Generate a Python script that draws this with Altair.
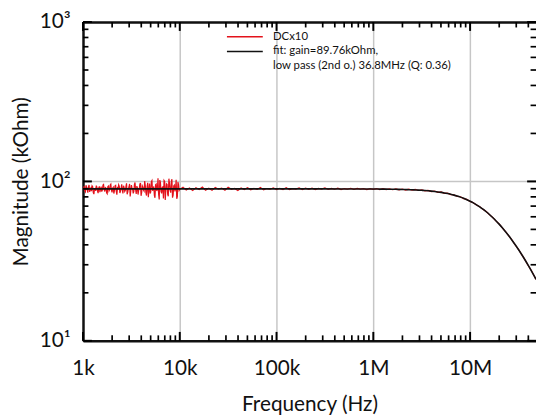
import altair as alt
import pandas as pd

FONT = "Lato"
RED = "#e3121b"
BLACK = "#111111"
GRID = "#c6c6c6"
W, H = 459, 323

# ---- measured trace "DCx10" (Hz, kOhm) ----
freq_lf = [1000, 1029, 1059, 1090, 1122, 1155, 1189, 1223, 1259, 1296,
           1334, 1372, 1413, 1454, 1496, 1540, 1585, 1631, 1679, 1728,
           1778, 1830, 1884, 1939, 1995, 2054, 2113, 2175, 2239, 2304,
           2371, 2441, 2512, 2585, 2661, 2738, 2818, 2901, 2985, 3073,
           3162, 3255, 3350, 3447, 3548, 3652, 3758, 3868, 3981, 4097,
           4217, 4340, 4467, 4597, 4732, 4870, 5012, 5158, 5309, 5464,
           5623, 5788, 5957, 6131, 6310, 6494, 6683, 6879, 7079, 7286,
           7499, 7718, 7943, 8175, 8414, 8660, 8913, 9173, 9441, 9716,
           10000]
mag_lf = [88.5, 93.2, 86.1, 91.7, 84.9, 95.0, 89.3, 86.8, 92.6, 83.2,
          90.4, 94.1, 87.0, 91.2, 85.6, 92.8, 88.2, 95.6, 86.4, 90.9,
          83.7, 93.5, 89.0, 96.2, 85.3, 91.8, 87.5, 94.4, 82.6, 90.1,
          93.0, 86.9, 95.8, 84.1, 91.4, 88.0, 97.3, 85.8, 92.2, 80.4,
          94.7, 89.6, 86.2, 98.5, 83.5, 91.0, 87.7, 96.0, 81.2, 93.9,
          88.4, 100.6, 84.7, 92.9, 79.5, 97.1, 86.0, 101.2, 90.3, 81.8,
          95.4, 87.1, 104.8, 77.0, 98.7, 84.2, 92.5, 101.4, 76.4, 96.6,
          82.9, 104.0, 88.1, 99.3, 79.1, 93.6, 86.5, 102.5, 80.3, 95.1,
          89.2]
freq_lf2 = [1014, 1044, 1074, 1106, 1138, 1172, 1206, 1241, 1277, 1315,
            1353, 1392, 1433, 1475, 1518, 1562, 1608, 1655, 1703, 1753,
            1804, 1857, 1911, 1967, 2024, 2083, 2144, 2207, 2271, 2337,
            2405, 2476, 2548, 2622, 2699, 2778, 2859, 2943, 3029, 3117,
            3208, 3302, 3398, 3497, 3600, 3705, 3813, 3924, 4039, 4157,
            4278, 4403, 4532, 4664, 4800, 4941, 5085, 5233, 5386, 5543,
            5705, 5872, 6043, 6220, 6401, 6588, 6780, 6978, 7182, 7392,
            7608, 7830, 8058, 8294, 8536, 8785, 9042, 9306, 9577, 9857]
mag_lf2 = [91.0, 87.4, 94.6, 88.9, 92.3, 86.0, 90.8, 93.7, 85.1, 89.9,
           87.2, 92.0, 84.4, 93.1, 89.6, 86.3, 94.9, 88.7, 91.5, 84.8,
           92.6, 87.3, 95.1, 88.0, 90.5, 83.9, 93.8, 86.7, 91.0, 95.2,
           84.6, 90.7, 88.3, 94.0, 86.5, 92.7, 83.0, 90.2, 96.4, 87.0,
           91.3, 84.2, 95.5, 88.6, 93.4, 82.7, 90.0, 97.8, 85.2, 92.1,
           86.9, 94.3, 81.6, 98.0, 88.8, 84.0, 99.6, 87.4, 93.0, 78.9,
           96.3, 89.5, 83.1, 102.0, 86.6, 91.9, 78.2, 100.1, 88.3, 95.9,
           80.6, 97.4, 85.0, 103.3, 82.1, 94.8, 90.6, 77.8, 99.0, 87.8]

freq_mf = [10800, 11660, 12590, 13590, 14680, 15850, 17110, 18480, 19950, 21540,
           23260, 25120, 27120, 29290, 31620, 34150, 36870, 39810, 42990, 46420,
           50120, 54120, 58430, 63100, 68130, 73560, 79430, 85770, 92610, 100000,
           108000, 116600, 125900, 135900, 146800, 158500, 171100, 184800, 199500, 215400,
           232600, 251200, 271200, 292900, 316200, 341500, 368700, 398100, 429900, 464200,
           501200, 541200, 584300, 631000, 681300, 735600, 794300, 857700, 926100, 1000000]
mag_mf = [91.8, 88.3, 90.9, 87.6, 91.2, 89.0, 92.3, 88.1, 90.6, 87.9,
          91.5, 89.4, 90.8, 88.0, 91.9, 89.2, 90.4, 87.8, 90.9, 88.9,
          91.4, 88.6, 90.3, 89.1, 91.6, 88.5, 90.2, 89.3, 91.1, 88.8,
          90.5, 89.0, 91.3, 88.7, 90.1, 89.5, 91.0, 88.9, 90.6, 89.2,
          90.8, 88.8, 90.3, 89.6, 91.2, 89.0, 90.4, 89.3, 90.7, 88.9,
          90.2, 89.5, 90.6, 89.1, 90.3, 89.4, 90.1, 88.9, 90.0, 89.2]

freq_hf = [1.080e6, 1.166e6, 1.259e6, 1.359e6, 1.468e6, 1.585e6, 1.711e6, 1.848e6, 1.995e6, 2.154e6,
           2.326e6, 2.512e6, 2.712e6, 2.929e6, 3.162e6, 3.415e6, 3.687e6, 3.981e6, 4.299e6, 4.642e6,
           5.012e6, 5.412e6, 5.843e6, 6.310e6, 6.813e6, 7.356e6, 7.943e6, 8.577e6, 9.261e6, 10.00e6,
           10.80e6, 11.66e6, 12.59e6, 13.59e6, 14.68e6, 15.85e6, 17.11e6, 18.48e6, 19.95e6, 21.54e6,
           23.26e6, 25.12e6, 27.12e6, 29.29e6, 31.62e6, 34.15e6, 36.87e6, 39.81e6, 42.99e6, 46.42e6,
           48.0e6]
mag_hf = [90.2, 88.9, 90.0, 88.8, 89.9, 88.7, 89.8, 88.6, 89.6, 88.3,
          89.4, 88.1, 89.0, 87.7, 88.5, 87.2, 87.9, 86.4, 87.0, 85.4,
          85.9, 84.2, 84.4, 82.6, 82.5, 80.5, 80.1, 78.0, 77.1, 74.9,
          73.5, 71.1, 69.4, 66.8, 64.7, 61.9, 59.5, 56.6, 54.1, 51.1,
          48.5, 45.5, 42.9, 39.9, 37.5, 34.7, 32.3, 29.7, 27.6, 25.2,
          24.3]

# ---- fit curve ----
freq_fit = [1e3, 3e3, 1e4, 3e4, 1e5, 3e5, 1e6] + freq_hf
mag_fit = [89.76, 89.76, 89.76, 89.76, 89.75, 89.74, 89.57,
           89.54, 89.50, 89.46, 89.41, 89.35, 89.29, 89.21, 89.12, 89.01, 88.89,
           88.75, 88.59, 88.40, 88.18, 87.92, 87.63, 87.29, 86.89, 86.44, 85.93,
           85.34, 84.66, 83.89, 83.02, 82.04, 80.93, 79.70, 78.32, 76.80, 75.13,
           73.30, 71.32, 69.19, 66.94, 64.53, 62.02, 59.41, 56.71, 53.97, 51.18,
           48.37, 45.57, 42.79, 40.03, 37.38, 34.77, 32.25, 29.82, 27.49, 25.26,
           24.32]

# legend entries: the fit label runs over two lines (second line has no swatch)
legend_entries = ["DCx10", "fit: gain=89.76kOhm,", "\u00a0low pass (2nd o.) 36.8MHz (Q: 0.36)"]
legend_colors = [RED, BLACK, "transparent"]

x_major = [1e3, 1e4, 1e5, 1e6, 1e7]
x_major_labels = ["1k", "10k", "100k", "1M", "10M"]
x_domain = [1e3, 4.8e7]
x_minor = [m * d for d in [1e3, 1e4, 1e5, 1e6, 1e7] for m in range(2, 10) if m * d <= x_domain[1]]

y_major = [10, 100, 1000]
y_major_labels = ["10\u00b9", "10\u00b2", "10\u00b3"]
y_domain = [10, 1000]
y_minor = [m * d for d in [10, 100] for m in range(2, 10)]

assert len(freq_lf) == len(mag_lf)
assert len(freq_lf2) == len(mag_lf2)
assert len(freq_mf) == len(mag_mf)
assert len(freq_hf) == len(mag_hf)
assert len(freq_fit) == len(mag_fit)

meas = pd.DataFrame({"f": freq_lf + freq_lf2 + freq_mf + freq_hf,
                     "m": mag_lf + mag_lf2 + mag_mf + mag_hf,
                     "series": legend_entries[0]}).sort_values("f")
fit = pd.DataFrame({"f": freq_fit, "m": mag_fit, "series": legend_entries[1]})

xs = alt.Scale(type="log", domain=x_domain, nice=False, zero=False)
ys = alt.Scale(type="log", domain=y_domain, nice=False, zero=False)


def expr_map(values, labels):
    e = "''"
    for v, l in zip(values[::-1], labels[::-1]):
        e = f"datum.value == {v} ? '{l}' : ({e})"
    return e


MAJ, MIN = 9, 5.5
FS = 21


def tick_marks(values, side, length, width):
    """Inward-pointing axis ticks placed through the chart's own scales."""
    base = alt.Chart(pd.DataFrame({"v": values})).mark_rule(color="#000000", strokeWidth=width, opacity=1)
    if side in ("bottom", "top"):
        y0, y1 = (H, H - length) if side == "bottom" else (0, length)
        return base.encode(x=alt.X("v:Q", scale=xs, axis=None), y=alt.value(y0), y2=alt.value(y1))
    x0, x1 = (0, length) if side == "left" else (W - length, W)
    return base.encode(y=alt.Y("v:Q", scale=ys, axis=None), x=alt.value(x0), x2=alt.value(x1))


color = alt.Color("series:N",
                  scale=alt.Scale(domain=legend_entries, range=legend_colors),
                  legend=alt.Legend(
                      orient="none", legendX=145, legendY=8.5, padding=0, title=None,
                      symbolType="stroke", symbolSize=1320, symbolStrokeWidth=1.5,
                      clipHeight=13,
                      labelFont=FONT, labelFontSize=11.5, labelColor=BLACK,
                      labelOffset=9.5, labelLimit=400, rowPadding=1.8))

red = alt.Chart(meas).mark_line(strokeWidth=1.2, clip=True).encode(
    x=alt.X("f:Q", scale=xs, axis=alt.Axis(
        orient="bottom", values=x_major, labelExpr=expr_map(x_major, x_major_labels),
        labelFlush=False,
        ticks=False, tickSize=0, domain=True, domainColor=BLACK, domainWidth=2.5,
        grid=True, gridColor=GRID, gridWidth=1.5,
        labelFont=FONT, labelFontSize=FS, labelColor=BLACK, labelPadding=17,
        title="Frequency (Hz)", titleFont=FONT, titleFontSize=FS, titleFontWeight="normal",
        titleColor=BLACK, titlePadding=16)),
    y=alt.Y("m:Q", scale=ys, axis=alt.Axis(
        orient="left", values=y_major, labelExpr=expr_map(y_major, y_major_labels),
        labelFlush=False,
        ticks=False, tickSize=0, domain=True, domainColor=BLACK, domainWidth=2.5,
        grid=True, gridColor=GRID, gridWidth=1.5,
        labelFont=FONT, labelFontSize=FS, labelColor=BLACK, labelPadding=13,
        title="Magnitude (kOhm)", titleFont=FONT, titleFontSize=FS, titleFontWeight="normal",
        titleColor=BLACK, titlePadding=8)),
    color=color,
    order="f:Q",
)

black = alt.Chart(fit).mark_line(strokeWidth=1.6, clip=True, interpolate="monotone").encode(
    x=alt.X("f:Q", scale=xs, axis=alt.Axis(
        orient="top", labels=False, ticks=False, tickSize=0, grid=False, title=None,
        domain=True, domainColor=BLACK, domainWidth=2.5)),
    y=alt.Y("m:Q", scale=ys, axis=None),
    color=color,
    order="f:Q",
)

ticks = [tick_marks(x_major, "bottom", MAJ, 2), tick_marks(x_minor, "bottom", MIN, 1.7),
         tick_marks(x_major, "top", MAJ, 2), tick_marks(x_minor, "top", MIN, 1.7),
         tick_marks(y_major, "left", MAJ, 2), tick_marks(y_minor, "left", MIN, 1.7),
         tick_marks(y_major, "right", MAJ, 2), tick_marks(y_minor, "right", MIN, 1.7)]

chart = alt.layer(red, black, *ticks).resolve_axis(
    x="independent", y="independent"
).properties(
    width=W, height=H,
    autosize=alt.AutoSizeParams(type="none"),
    padding={"left": 76, "top": 11.5, "right": 0, "bottom": 75},
    background="white",
).configure_view(stroke=None)

chart.save("out.html", embed_options={"renderer": "svg", "actions": False})
